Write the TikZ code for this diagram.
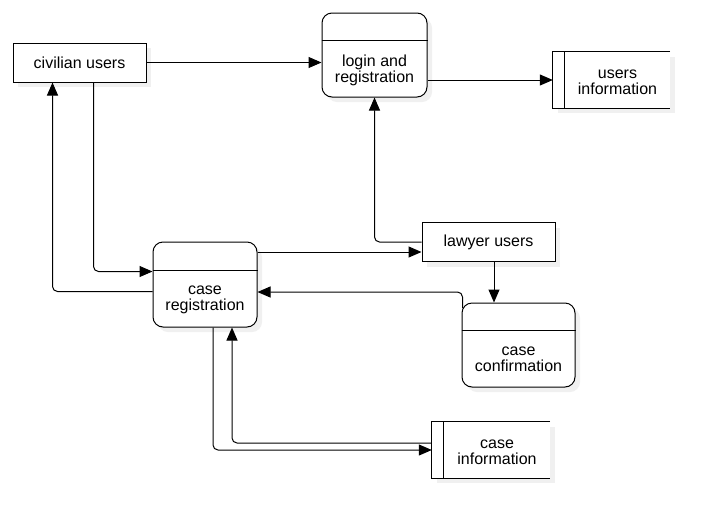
\documentclass[tikz,border=0pt]{standalone}
\usepackage{fontspec}
\setmainfont{Liberation Sans}
\usetikzlibrary{arrows.meta,shadows}

\tikzset{
  shade box/.style={drop shadow={shadow xshift=5pt, shadow yshift=-5pt, fill=black!6, opacity=1}},
  entity/.style={draw, line width=1pt, fill=white, shade box, minimum width=133pt, minimum height=39pt, inner sep=0pt},
  process/.style={draw, line width=1pt, fill=white, shade box, rounded corners=10pt, minimum height=84pt, inner sep=0pt},
  store/.style={fill=white, shade box, minimum height=56pt, inner sep=0pt},
  ptext/.style={align=center, inner sep=0pt},
  flow/.style={draw, line width=1pt, rounded corners=5pt, -{Triangle[length=13pt,width=11pt]}}
}

\begin{document}
\begin{tikzpicture}[x=1pt, y=-1pt, font=\fontsize{16}{16}\selectfont]
  \path[use as bounding box, fill=white] (0,0) rectangle (720,528);

  \node[entity] (civ) at (79.5,62.5) {civilian users};
  \node[entity] (law) at (488.5,242) {lawyer users};
  \node[process, minimum width=105pt, label={[ptext,yshift=-15pt]center:{login and\\registration}}] (login) at (374.5,55) {};
  \node[process, minimum width=104pt, minimum height=85pt, label={[ptext,yshift=-15pt]center:{case\\registration}}] (cr) at (205,284.5) {};
  \node[process, minimum width=113pt, label={[ptext,yshift=-14pt]center:{case\\confirmation}}] (cc) at (518.5,345) {};
  \node[store, minimum width=117pt, label={[ptext,xshift=6pt,yshift=-2pt]center:{users\\information}}] (uinfo) at (611.5,80) {};
  \node[store, minimum width=118pt, label={[ptext,xshift=6pt,yshift=-2pt]center:{case\\information}}] (cinfo) at (491,450) {};

  \foreach \p/\h in {login/28,cr/29,cc/28}
    \draw[line width=1pt] ([yshift=-\h pt]\p.north west) -- ([yshift=-\h pt]\p.north east);
  \foreach \s in {uinfo,cinfo}
    \draw[line width=1pt] (\s.north east) -- (\s.north west) -- (\s.south west) -- (\s.south east)
      ([xshift=12pt]\s.north west) -- ([xshift=12pt]\s.south west);

  \coordinate (civout) at ([xshift=14pt]civ.south);
  \coordinate (civin) at ([xshift=-27pt]civ.south);
  \coordinate (crin) at ([yshift=13pt]cr.west);
  \coordinate (crout) at ([yshift=-7pt]cr.west);
  \coordinate (lawin) at ([yshift=-10pt]law.west);
  \coordinate (lawout) at ([xshift=5.5pt]law.south);
  \coordinate (ccout) at ([xshift=1pt,yshift=-5.6pt]cc.north west);
  \coordinate (crback) at ([yshift=-7.5pt]cr.east);
  \coordinate (crdown) at ([xshift=8pt]cr.south);
  \coordinate (crup) at ([xshift=27pt]cr.south);
  \coordinate (cinfoout) at ([yshift=7pt]cinfo.west);

  \draw[flow] (civ.east) -- (civ.east -| login.west);
  \draw[flow] (uinfo.west -| login.east) -- (uinfo.west);
  \draw[flow] (civout) |- (crin);
  \draw[flow] (crout) -| (civin);
  \draw[flow] (law.west) -| (login.south);
  \draw[flow] (lawin -| cr.east) -- (lawin);
  \draw[flow] (lawout) -- (lawout |- cc.north);
  \draw[flow] (ccout) |- (crback);
  \draw[flow] (crdown) |- (cinfo.west);
  \draw[flow] (cinfoout) -| (crup);
\end{tikzpicture}
\end{document}
